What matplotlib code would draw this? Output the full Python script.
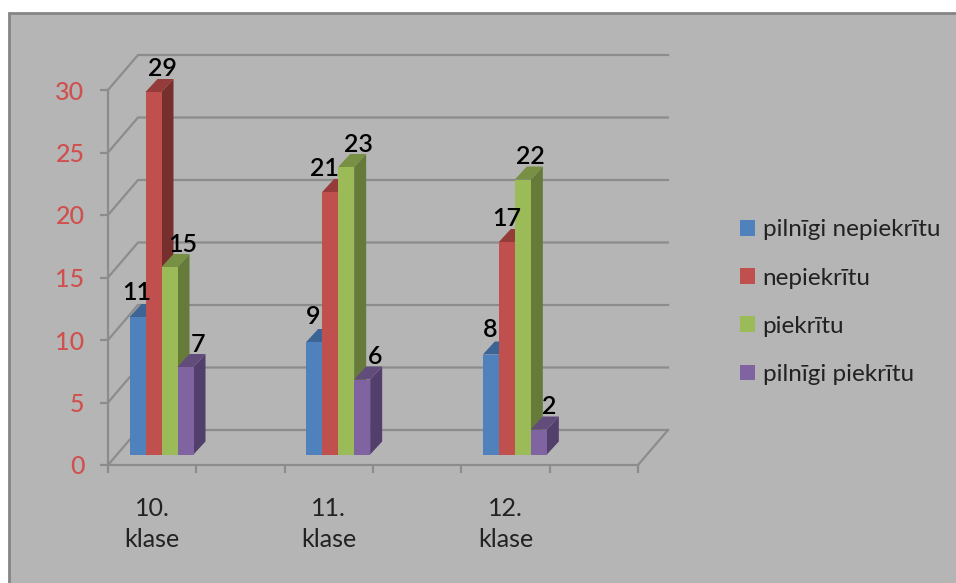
import matplotlib
matplotlib.use('Agg')
import matplotlib.pyplot as plt
import matplotlib.patches as mpatches

plt.rcParams['font.family'] = ['Lato', 'DejaVu Sans']

# values
groups = ['10.\nklase', '11.\nklase', '12.\nklase']
series_names = ['pilnīgi nepiekrītu', 'nepiekrītu', 'piekrītu', 'pilnīgi piekrītu']
pilnigi_nepiekritu = [11, 9, 8]
nepiekritu = [29, 21, 17]
piekritu = [15, 23, 22]
pilnigi_piekritu = [7, 6, 2]
series_values = [pilnigi_nepiekritu, nepiekritu, piekritu, pilnigi_piekritu]
y_ticks = [0, 5, 10, 15, 20, 25, 30]

# face, top, side colours per series
face_colors = ['#4f81bd', '#c0504d', '#9bbb59', '#8064a2']
top_colors = ['#3c6494', '#953b39', '#779044', '#614c7c']
side_colors = ['#2f4f78', '#772f2d', '#667a3a', '#523f6c']

W, H = 956, 583
PX_X = 530 / 6.0  # pixels per x unit
PX_Y = 12.5  # pixels per y unit

# fake 3d offsets, in data units
wall_dx = 30 / PX_X
wall_dy = 35 / PX_Y
bar_w = 16 / PX_X
bar_dx = 12 / PX_X
bar_dy = 13 / PX_Y
bar_base = 10.5 / PX_Y
bar_start = 21.5 / PX_X

# label nudges from the bar top centre in pixels
nudge_x = [[-1, -1, -1], [9, -6, 0], [13, 12, 8], [13, 13, 10]]
nudge_y = [25, 23, 23, 23]

fig = plt.figure(figsize=(W / 100, H / 100), dpi=100, facecolor='white')
fig.add_artist(mpatches.Rectangle((8.5 / W, -0.01), 1, 1 - 12.5 / H + 0.01, transform=fig.transFigure,
                                  facecolor='#b5b5b5', edgecolor='#858585', linewidth=2, zorder=-1))

ax = fig.add_axes([108 / W, 1 - 465 / H, 530 / W, 375 / H])
ax.patch.set_visible(False)
ax.set_xlim(0, 6)
ax.set_ylim(0, 30)

grid_color = '#8c8c8c'
for spine in ['top', 'right']:
    ax.spines[spine].set_visible(False)
for spine in ['left', 'bottom']:
    ax.spines[spine].set_color(grid_color)
    ax.spines[spine].set_linewidth(1.6)

# back wall lines and the diagonals on the side wall
for v in y_ticks:
    ax.plot([0, wall_dx, 6 + wall_dx], [v, v + wall_dy, v + wall_dy], color=grid_color, lw=1.6,
            clip_on=False, zorder=1, solid_joinstyle='miter')
ax.plot([6, 6 + wall_dx], [0, wall_dy], color=grid_color, lw=1.6, clip_on=False, zorder=1)

ax.set_yticks(y_ticks)
ax.set_xticks(range(7))
ax.set_xticklabels([])
ax.tick_params(axis='both', which='major', color=grid_color, width=1.6, length=6)
ax.tick_params(axis='y', labelcolor='#d0504e', labelsize=18, pad=11)
ax.set_xticks([2 * i + 0.5 for i in range(len(groups))], groups, minor=True)
ax.tick_params(axis='x', which='minor', length=0, pad=23, labelsize=18, labelcolor='#222222')
for lab in ax.get_xticklabels(minor=True):
    lab.set_linespacing(1.4)
for lab in ax.get_yticklabels():
    lab.set_fontweight('medium')

# bars, left to right so each one covers the side of the previous
for g in range(len(groups)):
    for s in range(len(series_names)):
        val = series_values[s][g]
        x0 = 2 * g + bar_start + s * bar_w
        x1 = x0 + bar_w
        y0 = bar_base
        y1 = val + bar_base
        ax.add_patch(mpatches.Polygon([(x1, y0), (x1 + bar_dx, y0 + bar_dy), (x1 + bar_dx, y1 + bar_dy), (x1, y1)],
                                      facecolor=side_colors[s], edgecolor='none', clip_on=False, zorder=3))
        ax.add_patch(mpatches.Polygon([(x0, y1), (x0 + bar_dx, y1 + bar_dy), (x1 + bar_dx, y1 + bar_dy), (x1, y1)],
                                      facecolor=top_colors[s], edgecolor='none', clip_on=False, zorder=3))
        ax.add_patch(mpatches.Rectangle((x0, y0), bar_w, val, facecolor=face_colors[s], edgecolor='none',
                                        clip_on=False, zorder=3))

# labels go on top of everything
for g in range(len(groups)):
    for s in range(len(series_names)):
        val = series_values[s][g]
        xc = 2 * g + bar_start + (s + 0.5) * bar_w
        ax.annotate(str(val), (xc, val + bar_base), xytext=(nudge_x[s][g], nudge_y[s]), textcoords='offset pixels',
                    ha='center', va='center', fontsize=18, color='black', fontweight='semibold', zorder=5,
                    annotation_clip=False)

handles = [mpatches.Patch(facecolor=c, edgecolor='none') for c in face_colors]
fig.legend(handles, series_names, loc='upper left', bbox_to_anchor=(733 / W, 1 - 212 / H), frameon=False,
           fontsize=17.5, labelcolor='#222222', handlelength=0.62, handleheight=0.62, handletextpad=0.3,
           labelspacing=1.12, borderpad=0.3, borderaxespad=0)

fig.savefig('out.png', dpi=100, facecolor='white')
